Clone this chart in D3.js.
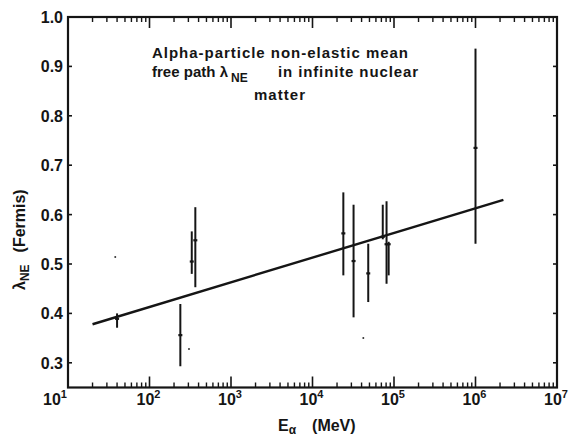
<!DOCTYPE html>
<html><head><meta charset="utf-8">
<script src="https://cdn.jsdelivr.net/npm/d3@7"></script>
<style>body{margin:0;background:#fff}svg{display:block}</style>
</head><body>
<script>
// ---- data ----
const energies = [40, 239, 330, 365, 23900, 31900, 48300, 72800, 81000, 86000, 1e6];
const centers  = [0.389, 0.356, 0.505, 0.548, 0.562, 0.506, 0.481, 0.555, 0.540, 0.540, 0.735];
const lows     = [0.371, 0.293, 0.480, 0.453, 0.477, 0.392, 0.423, 0.550, 0.460, 0.477, 0.541];
const highs    = [0.400, 0.419, 0.566, 0.615, 0.645, 0.620, 0.541, 0.620, 0.627, 0.545, 0.936];
const fitE = [20, 2.2e6];
const fitV = [0.378, 0.630];
const speckE = [305, 38, 42000];
const speckV = [0.328, 0.514, 0.350];
const xTickExps = [1, 2, 3, 4, 5, 6, 7];
const yTicks = [0.3, 0.4, 0.5, 0.6, 0.7, 0.8, 0.9, 1.0];

const W = 573, H = 436;
const L = 68, R = 557, T = 17, B = 387.5;
const svg = d3.select("body").append("svg").attr("width", W).attr("height", H);
const x = d3.scaleLog().domain([10, 1e7]).range([L, R]);
const y = d3.scaleLinear().domain([0.25, 1.0]).range([B, T]);
const font = "'Liberation Sans', Arial, sans-serif";
const ink = "#151515";

// minor/major x ticks
const minor = [];
for (let e = 1; e < 7; e++) for (let m = 2; m <= 9; m++) minor.push(m * Math.pow(10, e));
const majors = xTickExps.map(e => Math.pow(10, e));

const g = svg.append("g").attr("stroke", ink).attr("fill", "none");
g.selectAll(".bmin").data(minor).join("line")
  .attr("x1", d => x(d)).attr("x2", d => x(d)).attr("y1", B).attr("y2", B - 5).attr("stroke-width", 1.4);
g.selectAll(".bmaj").data(majors).join("line")
  .attr("x1", d => x(d)).attr("x2", d => x(d)).attr("y1", B).attr("y2", B - 11).attr("stroke-width", 1.6);
g.selectAll(".tmin").data(minor).join("line")
  .attr("x1", d => x(d)).attr("x2", d => x(d)).attr("y1", T).attr("y2", T + 5).attr("stroke-width", 1.4);
g.selectAll(".tmaj").data(majors).join("line")
  .attr("x1", d => x(d)).attr("x2", d => x(d)).attr("y1", T).attr("y2", T + 11).attr("stroke-width", 1.6);
g.selectAll(".lt").data(yTicks).join("line")
  .attr("x1", L).attr("x2", L + 4).attr("y1", d => y(d)).attr("y2", d => y(d)).attr("stroke-width", 1.6);
g.selectAll(".rt").data(yTicks).join("line")
  .attr("x1", R).attr("x2", R - 4).attr("y1", d => y(d)).attr("y2", d => y(d)).attr("stroke-width", 1.6);

// frame
svg.append("rect").attr("x", L).attr("y", T).attr("width", R - L).attr("height", B - T)
  .attr("fill", "none").attr("stroke", ink).attr("stroke-width", 2.2);

// y tick labels
svg.selectAll(".yl").data(yTicks).join("text")
  .attr("x", 63).attr("y", d => y(d) + 6).attr("text-anchor", "end")
  .attr("font-family", font).attr("font-weight", "bold").attr("font-size", 16).attr("fill", ink)
  .text(d => d.toFixed(1));

// x tick labels 10^n
const xl = svg.selectAll(".xl").data(xTickExps).join("text")
  .attr("x", d => d === 1 ? x(Math.pow(10, d)) - 13 : x(Math.pow(10, d)) - 1).attr("y", 405)
  .attr("text-anchor", "middle")
  .attr("font-family", font).attr("font-weight", "bold").attr("font-size", 16).attr("fill", ink);
xl.append("tspan").text("10");
xl.append("tspan").attr("dy", -7).attr("font-size", 11).text(d => d);

// fit line
svg.append("line")
  .attr("x1", x(fitE[0])).attr("y1", y(fitV[0])).attr("x2", x(fitE[1])).attr("y2", y(fitV[1]))
  .attr("stroke", ink).attr("stroke-width", 2.4);

// error bars
const eb = svg.append("g").attr("stroke", ink);
eb.selectAll("line.v").data(energies).join("line").attr("class", "v")
  .attr("x1", d => x(d)).attr("x2", d => x(d))
  .attr("y1", (d, i) => y(lows[i])).attr("y2", (d, i) => y(highs[i])).attr("stroke-width", 2);
eb.selectAll("line.c").data(energies).join("line").attr("class", "c")
  .attr("x1", d => x(d) - 2).attr("x2", d => x(d) + 2)
  .attr("y1", (d, i) => y(centers[i])).attr("y2", (d, i) => y(centers[i])).attr("stroke-width", 2.2);

// specks
svg.selectAll(".sp").data(speckE).join("circle")
  .attr("cx", d => x(d)).attr("cy", (d, i) => y(speckV[i])).attr("r", 1).attr("fill", "#333");

// annotation
const ann = svg.append("g").attr("font-family", font).attr("font-size", 15).attr("fill", ink).attr("font-weight", "bold");
ann.append("text").attr("x", 152).attr("y", 58).attr("textLength", 256).attr("lengthAdjust", "spacing")
  .text("Alpha-particle  non-elastic  mean");
ann.append("text").attr("x", 152).attr("y", 77).attr("textLength", 76).attr("lengthAdjust", "spacing").text("free  path  λ");
ann.append("text").attr("x", 231).attr("y", 82).attr("font-size", 12).text("NE");
ann.append("text").attr("x", 278).attr("y", 77).attr("textLength", 140).attr("lengthAdjust", "spacing").text("in  infinite  nuclear");
ann.append("text").attr("x", 254).attr("y", 100).attr("textLength", 51).attr("lengthAdjust", "spacing").text("matter");

// axis titles
const xt = svg.append("text").attr("x", 278).attr("y", 431)
  .attr("font-family", font).attr("font-size", 16).attr("font-weight", "bold").attr("fill", ink);
xt.append("tspan").text("E");
xt.append("tspan").attr("dy", 3).attr("font-size", 12).text("α");
xt.append("tspan").attr("dy", -3).attr("dx", 16).text("(MeV)");

const yt = svg.append("text").attr("transform", "translate(25,290) rotate(-90)")
  .attr("font-family", font).attr("font-size", 16).attr("fill", ink).attr("font-weight", "bold");
yt.append("tspan").text("λ");
yt.append("tspan").attr("dy", 4).attr("font-size", 12).text("NE");
yt.append("tspan").attr("dy", -4).attr("dx", 12).text("(Fermis)");
</script>
</body></html>
